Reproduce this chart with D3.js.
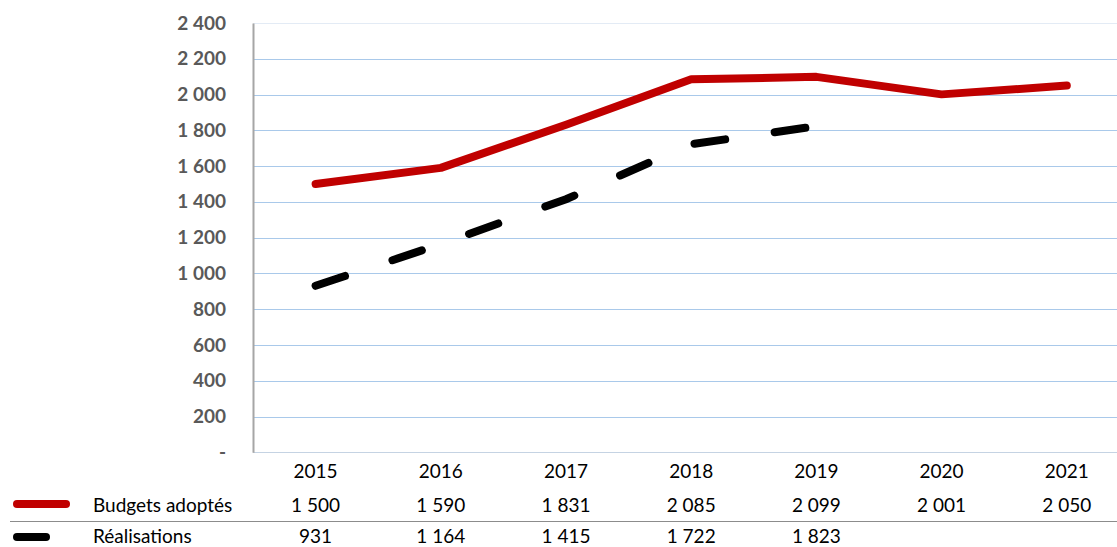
<!DOCTYPE html>
<html>
<head>
<meta charset="utf-8">
<script src="https://cdn.jsdelivr.net/npm/d3@7"></script>
<style>
  body { margin: 0; background: #fff; }
  svg { display: block; font-family: Lato, "Open Sans", sans-serif; }
</style>
</head>
<body>
<div id="chart"></div>
<script>
const years = ['2015', '2016', '2017', '2018', '2019', '2020', '2021']
const budgets = [1500, 1590, 1831, 2085, 2099, 2001, 2050]
const realisations = [931, 1164, 1415, 1722, 1823, null, null]
const seriesNames = ['Budgets adoptés', 'Réalisations']
const yTicks = [0, 200, 400, 600, 800, 1000, 1200, 1400, 1600, 1800, 2000, 2200, 2400]

const width = 1117
const height = 547
const plotLeft = 253
const plotTop = 23
const plotBottom = 452.3

const svg = d3.select('#chart').append('svg')
  .attr('width', width)
  .attr('height', height)

const x = d3.scaleBand()
  .domain(years)
  .range([plotLeft, plotLeft + 7 * 125.2])

const y = d3.scaleLinear()
  .domain([0, 2400])
  .range([plotBottom, plotTop])

const fr = d3.formatLocale({ decimal: ',', thousands: '\u00a0', grouping: [3], currency: ['', ' €'] })
const fmt = v => v === 0 ? '-' : fr.format(',')(v)

// gridlines
svg.append('g')
  .selectAll('line')
  .data(yTicks)
  .join('line')
  .attr('x1', plotLeft)
  .attr('x2', width)
  .attr('y1', d => Math.round(y(d)) + 0.5)
  .attr('y2', d => Math.round(y(d)) + 0.5)
  .attr('stroke', d => d === 2400 ? '#e3ebf5' : (d === 0 ? '#c5d3e3' : '#a9c9ea'))
  .attr('stroke-width', 1)

// y axis
const yAxis = svg.append('g')
  .attr('transform', `translate(${plotLeft},0)`)
  .call(d3.axisLeft(y).tickValues(yTicks).tickSize(0).tickPadding(27).tickFormat(fmt))
yAxis.select('.domain')
  .attr('stroke', '#a6a6a6')
  .attr('stroke-width', 2)
yAxis.selectAll('text')
  .attr('fill', '#595959')
  .style('font-size', '19px')
  .style('font-weight', 'bold')
  .style('font-family', 'Lato, "Open Sans", sans-serif')

const cx = d => x(d) + x.bandwidth() / 2

// lines
const line = d3.line()
  .defined(d => d.v != null)
  .x(d => cx(d.year))
  .y(d => y(d.v))

svg.append('path')
  .datum(years.map((year, i) => ({ year, v: budgets[i] })))
  .attr('d', line)
  .attr('fill', 'none')
  .attr('stroke', '#c00000')
  .attr('stroke-width', 8)
  .attr('stroke-linecap', 'round')
  .attr('stroke-linejoin', 'round')

svg.append('path')
  .datum(years.map((year, i) => ({ year, v: realisations[i] })))
  .attr('d', line)
  .attr('fill', 'none')
  .attr('stroke', '#000')
  .attr('stroke-width', 8)
  .attr('stroke-linecap', 'round')
  .attr('stroke-dasharray', '31,50')

// data table
const rowY = [471, 505, 536]
const table = svg.append('g')
  .style('font-size', '19px')
  .attr('fill', '#000')

table.selectAll('text.year')
  .data(years)
  .join('text')
  .attr('class', 'year')
  .attr('x', d => cx(d))
  .attr('y', rowY[0])
  .attr('dy', '0.35em')
  .attr('text-anchor', 'middle')
  .text(d => d)

const rows = [budgets, realisations]
rows.forEach((vals, r) => {
  table.selectAll(`text.v${r}`)
    .data(years.map((year, i) => ({ year, v: vals[i] })).filter(d => d.v != null))
    .join('text')
    .attr('class', `v${r}`)
    .attr('x', d => cx(d.year))
    .attr('y', rowY[r + 1])
    .attr('dy', '0.35em')
    .attr('text-anchor', 'middle')
    .text(d => fmt(d.v))

  table.append('text')
    .attr('x', 93)
    .attr('y', rowY[r + 1])
    .attr('dy', '0.35em')
    .text(seriesNames[r])
})

// legend keys
svg.append('line')
  .attr('x1', 17).attr('x2', 66)
  .attr('y1', 504).attr('y2', 504)
  .attr('stroke', '#c00000').attr('stroke-width', 8).attr('stroke-linecap', 'round')
svg.append('line')
  .attr('x1', 17).attr('x2', 46)
  .attr('y1', 537).attr('y2', 537)
  .attr('stroke', '#000').attr('stroke-width', 8).attr('stroke-linecap', 'round')

// table separator
svg.append('line')
  .attr('x1', 10).attr('x2', width)
  .attr('y1', 521.5).attr('y2', 521.5)
  .attr('stroke', '#8c8c8c').attr('stroke-width', 1.2)
</script>
</body>
</html>
